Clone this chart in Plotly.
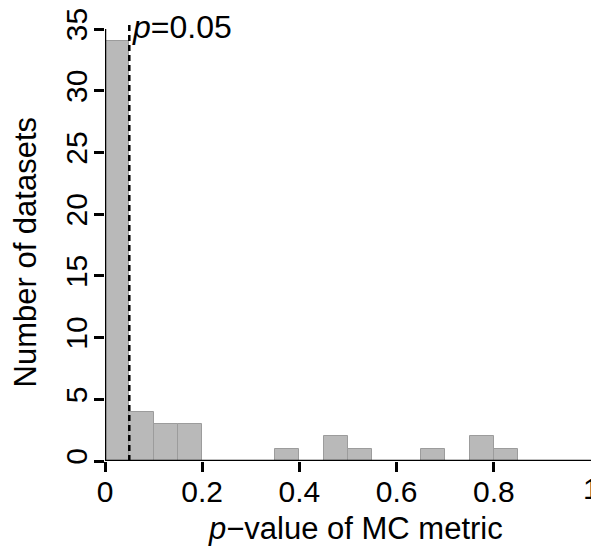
import plotly.graph_objects as go

# Histogram data (bin width 0.05)
bin_left = [0.00, 0.05, 0.10, 0.15, 0.20, 0.25, 0.30, 0.35, 0.40, 0.45,
            0.50, 0.55, 0.60, 0.65, 0.70, 0.75, 0.80, 0.85, 0.90, 0.95]
counts = [34, 4, 3, 3, 0, 0, 0, 1, 0, 2, 1, 0, 0, 1, 0, 2, 1, 0, 0, 0]
bin_width = 0.05
x_ticks = [0, 0.2, 0.4, 0.6, 0.8, 1]
x_tick_labels = ["0", "0.2", "0.4", "0.6", "0.8", "1"]
y_ticks = [0, 5, 10, 15, 20, 25, 30, 35]
y_tick_labels = ["0", "5", "10", "15", "20", "25", "30", "35"]
threshold = 0.05

FONT = "Liberation Sans, Arial, sans-serif"
FS = 30

centers = [b + bin_width / 2 for b in bin_left]

fig = go.Figure()
fig.add_trace(go.Bar(
    x=centers, y=counts, width=[bin_width] * len(centers),
    marker=dict(color="#b9b9b9", line=dict(color="#9c9c9c", width=1)),
    showlegend=False, hoverinfo="skip",
))

fig.update_layout(
    width=591, height=546,
    margin=dict(l=105, r=0, t=18, b=85),
    plot_bgcolor="white", paper_bgcolor="white",
    font=dict(family=FONT, size=FS, color="black"),
    bargap=0,
    xaxis=dict(range=[0, 1], tickvals=x_ticks[:-1], ticktext=x_tick_labels[:-1],
               ticks="outside", ticklen=10, tickwidth=2.5, tickcolor="black",
               showgrid=False, zeroline=False, showline=False,
               tickfont=dict(size=FS), ticklabelstandoff=-6),
    yaxis=dict(range=[0, 35.9], tickvals=y_ticks, ticktext=y_tick_labels,
               ticks="outside", ticklen=10, tickwidth=2.5, tickcolor="black",
               showgrid=False, zeroline=False, showline=False,
               tickangle=-90, tickfont=dict(size=FS), ticklabelstandoff=-5),
)

# axis lines (R style)
fig.add_shape(type="line", xref="x", yref="y", x0=0, x1=1, y0=0, y1=0,
              line=dict(color="black", width=2.5), layer="above")
fig.add_shape(type="line", xref="x", yref="y", x0=0, x1=0, y0=0, y1=35,
              line=dict(color="black", width=2.5), layer="above")
# label at x=1 (clipped by the figure edge as in the original)
fig.add_annotation(x=x_ticks[-1], y=0, xref="x", yref="paper",
                   text=x_tick_labels[-1], showarrow=False,
                   xanchor="center", yanchor="top", yshift=-9,
                   font=dict(size=FS))
# threshold line
fig.add_shape(type="line", xref="x", yref="y", x0=threshold, x1=threshold,
              y0=0, y1=35.6, line=dict(color="black", width=2.5, dash="6px,4px"),
              layer="above")

fig.add_annotation(x=threshold, y=35, xref="x", yref="y",
                   text="<i>p</i>=0.05", showarrow=False,
                   xanchor="left", yanchor="middle", xshift=1, yshift=2,
                   font=dict(size=32))

# axis titles
fig.add_annotation(x=0.516, y=0, xref="x", yref="paper",
                   text="<i>p</i>\u2212value of MC metric", showarrow=False,
                   xanchor="center", yanchor="middle", yshift=-67,
                   font=dict(size=31))
fig.add_annotation(x=0, y=16.9, xref="paper", yref="y",
                   text="Number of datasets", showarrow=False, textangle=-90,
                   xanchor="center", yanchor="middle", xshift=-80,
                   font=dict(size=31))

fig.write_html("out.html")
